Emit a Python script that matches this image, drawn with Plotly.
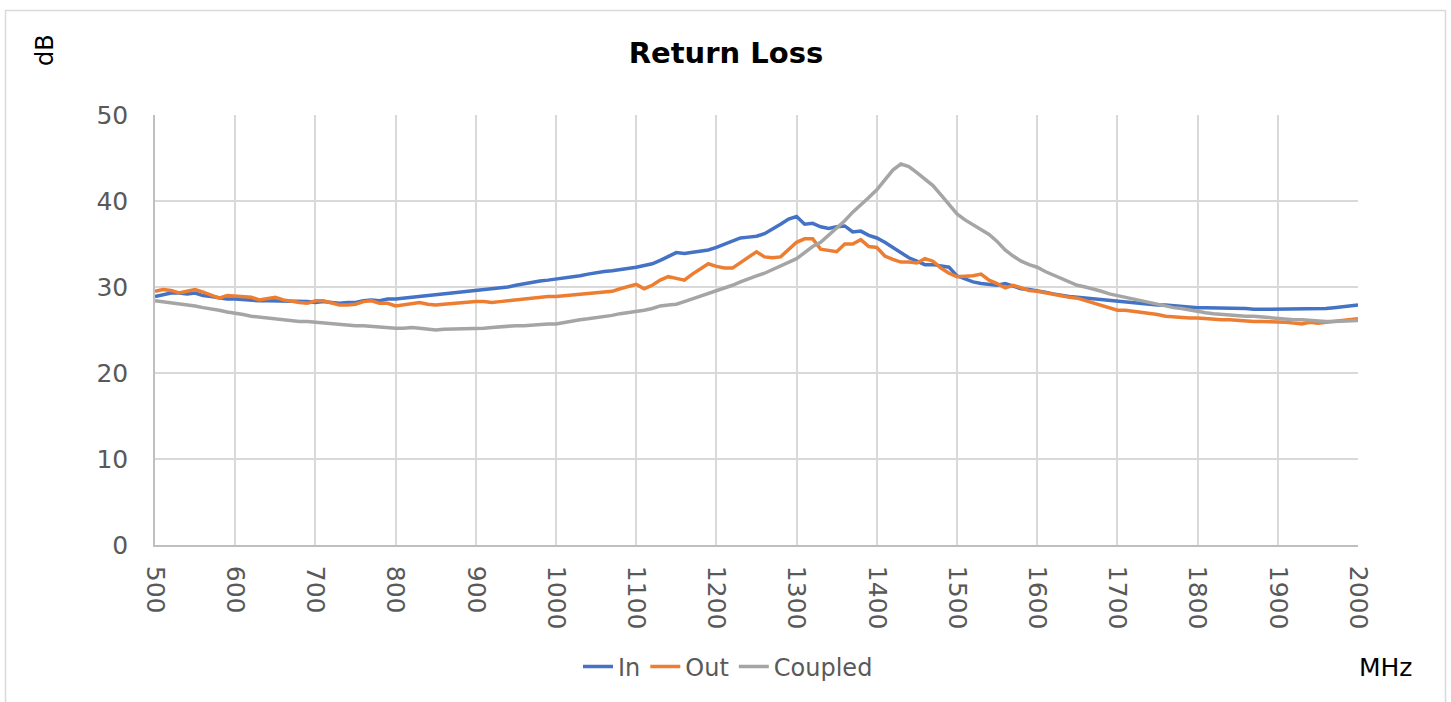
import plotly.graph_objects as go

freq_mhz = list(range(500, 2001, 10))

in_db = [
28.9,29.1,29.3,29.3,29.2,29.3,29.0,28.9,28.7,28.6,
28.6,28.5,28.5,28.4,28.4,28.4,28.3,28.3,28.3,28.3,
28.2,28.3,28.2,28.1,28.2,28.2,28.4,28.5,28.4,28.6,
28.6,28.7,28.7,28.8,28.9,29.0,29.1,29.2,29.3,29.4,
29.5,29.7,29.8,29.9,30.0,30.2,30.4,30.5,30.7,30.8,
30.9,31.0,31.2,31.3,31.5,31.7,31.8,31.9,32.0,32.2,
32.3,32.5,32.7,33.1,33.5,34.0,33.9,34.0,34.2,34.3,
34.6,35.0,35.4,35.7,35.8,35.9,36.2,36.7,37.3,37.9,
38.2,37.3,37.4,37.0,36.8,37.0,37.1,36.4,36.5,36.0,
35.7,35.2,34.6,34.0,33.4,33.0,32.6,32.6,32.4,32.3,
31.3,30.9,30.6,30.4,30.3,30.2,30.4,30.1,29.8,29.7,
29.6,29.4,29.2,29.0,28.9,28.8,28.7,28.7,28.6,28.5,
28.4,28.2,28.1,28.1,28.0,27.9,27.9,27.8,27.7,27.7,
27.6,27.6,27.6,27.6,27.5,27.5,27.5,27.4,27.4,27.4,
27.4,27.4,27.5,27.5,27.5,27.5,27.5,27.6,27.7,27.8,
27.9]

out_db = [
29.5,29.7,29.6,29.3,29.5,29.7,29.4,29.0,28.7,29.0,
28.9,28.9,28.8,28.5,28.6,28.8,28.5,28.3,28.2,28.1,
28.4,28.4,28.2,27.9,27.9,28.0,28.3,28.4,28.1,28.1,
27.8,27.9,28.1,28.2,28.0,27.9,28.0,28.1,28.1,28.2,
28.3,28.3,28.2,28.3,28.4,28.6,28.6,28.7,28.8,28.9,
28.9,29.0,29.1,29.2,29.3,29.3,29.4,29.5,29.8,30.1,
30.3,29.8,30.2,30.8,31.2,31.0,30.8,31.5,32.1,32.7,
32.4,32.2,32.2,32.8,33.4,34.1,33.5,33.4,33.5,34.3,
35.2,35.6,35.6,34.4,34.3,34.1,35.0,35.0,35.5,34.7,
34.6,33.6,33.2,32.9,32.9,32.8,33.3,33.0,32.2,31.6,
31.2,31.2,31.3,31.5,30.8,30.4,29.9,30.2,29.9,29.6,
29.5,29.3,29.1,28.9,28.8,28.7,28.4,28.1,27.8,27.5,
27.3,27.3,27.2,27.0,26.9,26.8,26.6,26.5,26.5,26.4,
26.4,26.3,26.3,26.2,26.2,26.1,26.1,26.0,26.0,26.0,
25.9,25.9,25.8,25.7,25.9,25.8,25.9,26.0,26.1,26.2,
26.3]

coupled_db = [
28.4,28.3,28.1,28.0,27.9,27.8,27.6,27.5,27.3,27.1,
27.0,26.8,26.6,26.5,26.4,26.3,26.2,26.0,26.0,26.0,
25.9,25.8,25.7,25.6,25.6,25.5,25.5,25.4,25.4,25.3,
25.2,25.2,25.3,25.2,25.1,25.0,25.1,25.1,25.1,25.1,
25.2,25.2,25.3,25.4,25.4,25.5,25.5,25.6,25.6,25.7,
25.7,25.9,26.0,26.2,26.3,26.4,26.5,26.7,26.9,27.0,
27.2,27.3,27.5,27.8,27.9,28.0,28.3,28.6,28.9,29.2,
29.5,29.8,30.2,30.6,31.0,31.3,31.6,32.0,32.5,32.9,
33.3,34.0,34.7,35.2,36.0,36.8,37.7,38.7,39.5,40.4,
41.3,42.4,43.6,44.3,44.0,43.3,42.5,41.8,40.7,39.6,
38.5,37.8,37.2,36.6,36.1,35.3,34.3,33.6,33.0,32.6,
32.3,31.8,31.4,30.9,30.6,30.2,30.0,29.8,29.5,29.2,
29.0,28.8,28.5,28.3,28.1,28.0,27.8,27.6,27.5,27.3,
27.1,27.0,26.9,26.8,26.7,26.7,26.6,26.6,26.5,26.4,
26.3,26.2,26.2,26.2,26.1,26.1,26.0,26.0,26.0,26.1,
26.1]

x_ticks = list(range(500, 2001, 100))
y_ticks = [0, 10, 20, 30, 40, 50]

series = [("In", in_db, "#4472C4"), ("Out", out_db, "#ED7D31"), ("Coupled", coupled_db, "#A5A5A5")]

FONT = "'DejaVu Sans', sans-serif"

fig = go.Figure()
for name, vals, col in series:
    fig.add_trace(go.Scatter(x=freq_mhz, y=vals, name=name, mode="lines",
                             line=dict(color=col, width=3.5)))

L, R, T, B = 155, 93, 115, 157
W, H = 1451, 702
pw = W - L - R
ph = H - T - B

def px_to_paper_x(px):
    return (px - L) / pw

def px_to_paper_y(py):
    return (H - B - py) / ph

fig.update_layout(
    width=W, height=H,
    margin=dict(l=L, r=R, t=T, b=B),
    paper_bgcolor="white", plot_bgcolor="white",
    font=dict(family=FONT, color="#595959", size=22),
    title=dict(text="<b>Return Loss</b>", x=726 / W,
               xanchor="center", y=1 - 53 / H, yanchor="middle",
               font=dict(size=29, color="black", family=FONT)),
    showlegend=True,
    legend=dict(orientation="h", x=px_to_paper_x(728), xanchor="center",
                y=px_to_paper_y(667), yanchor="middle",
                font=dict(size=24, color="#595959"), itemwidth=30,
                bgcolor="rgba(0,0,0,0)"),
    xaxis=dict(range=[500, 2000], tickvals=x_ticks, tickangle=90,
               showgrid=True, gridcolor="#d9d9d9", gridwidth=1.5,
               showline=True, linecolor="#bfbfbf", linewidth=1.5,
               zeroline=False, ticks="", ticklabelstandoff=14,
               tickfont=dict(size=25, color="#595959")),
    yaxis=dict(range=[0, 50], tickvals=y_ticks,
               showgrid=True, gridcolor="#d9d9d9", gridwidth=1.5,
               showline=True, linecolor="#bfbfbf", linewidth=1.5,
               zeroline=False, ticks="", ticklabelstandoff=20,
               tickfont=dict(size=25, color="#595959")),
    annotations=[
        dict(text="dB", xref="paper", yref="paper",
             x=px_to_paper_x(45), y=px_to_paper_y(50), showarrow=False,
             textangle=-90, xanchor="center", yanchor="middle",
             font=dict(size=24, color="black")),
        dict(text="MHz", xref="paper", yref="paper",
             x=px_to_paper_x(1386), y=px_to_paper_y(667), showarrow=False,
             xanchor="center", yanchor="middle",
             font=dict(size=25, color="black")),
    ],
    shapes=[
        dict(type="rect", xref="paper", yref="paper",
             x0=px_to_paper_x(5.5), x1=px_to_paper_x(1445.5),
             y0=px_to_paper_y(720), y1=px_to_paper_y(10.5),
             line=dict(color="#d9d9d9", width=1.5), fillcolor="rgba(0,0,0,0)",
             layer="below"),
    ],
)

fig.write_html("out.html", config={"displayModeBar": False},
               post_script="document.body.style.margin='0';document.body.style.overflow='hidden';")
